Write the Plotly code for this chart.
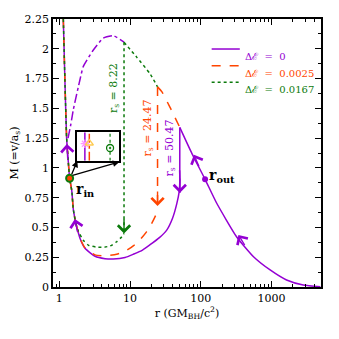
import numpy as np
import plotly.graph_objects as go

# colours
PURPLE = "#9400D3"
ORANGE = "#FF4500"
GREEN = "#0B7A0B"

# inner (steep) branch shared by all three solutions
r_steep = [1.14, 1.20, 1.27, 1.33, 1.40, 1.50, 1.58, 1.71]
M_steep = [2.25, 1.74, 1.25, 1.08, 0.913, 0.81, 0.65, 0.535]

# post-shock subsonic branches
r_low_0 = [1.71, 1.96, 2.31, 3.2, 4.43, 5.8, 8.5, 11.1, 15, 19.2, 26, 33, 40, 45.8, 49.5, 50.6, 50.2]
M_low_0 = [0.535, 0.41, 0.325, 0.258, 0.238, 0.235, 0.248, 0.275, 0.31, 0.355, 0.415, 0.478, 0.58, 0.70, 0.80, 0.90, 0.98]
r_low_1 = [1.71, 1.96, 2.31, 3.2, 4.43, 6.47, 8.5, 11.1, 14, 17.2, 20.5, 23.8, 24.47]
M_low_1 = [0.535, 0.41, 0.33, 0.27, 0.262, 0.275, 0.30, 0.345, 0.40, 0.465, 0.54, 0.62, 0.66]
r_low_2 = [1.71, 1.85, 2.2, 2.6, 3.38, 4.43, 5.5, 6.47, 7.6, 8.22]
M_low_2 = [0.535, 0.47, 0.39, 0.35, 0.335, 0.335, 0.35, 0.38, 0.42, 0.45]

# supersonic upper branch pieces
r_up_dd = [1.33, 1.46, 1.58, 1.96, 2.18, 3.03, 4.19, 5.81, 8.03, 8.22]
M_up_dd = [1.25, 1.37, 1.49, 1.74, 1.85, 1.99, 2.09, 2.11, 2.06, 2.055]
r_up_2 = [8.22, 12.4, 19.2, 24.47]
M_up_2 = [2.055, 1.93, 1.79, 1.68]
r_up_1 = [24.47, 28.1, 36.6, 50.47]
M_up_1 = [1.68, 1.64, 1.51, 1.34]
r_out_br = [50.47, 75, 115, 168, 322, 556, 955, 1630, 2800, 4900]
M_out_br = [1.34, 1.12, 0.904, 0.703, 0.42, 0.254, 0.143, 0.059, 0.017, 0.003]

# shocks
r_shock = [50.47, 24.47, 8.22]
M_shock_top = [1.34, 1.68, 2.055]
M_shock_bot = [0.79, 0.68, 0.45]
shock_lbl = ["50.47", "24.47", "8.22"]
M_shock_lbl = [1.17, 1.335, 1.67]

# sonic points
r_in, M_in = 1.40, 0.913
r_out, M_out = 115, 0.904

legend_names = ["Δℰ  =  0", "Δℰ  =  0.0025", "Δℰ  =  0.0167"]

FONT = "DejaVu Serif"

fig = go.Figure()

def line(x, y, color, dash, width=1.5):
    fig.add_trace(go.Scatter(x=x, y=y, mode="lines", showlegend=False,
                             line=dict(color=color, dash=dash, width=width, shape="spline", smoothing=0.5),
                             hoverinfo="skip"))

line(r_steep, M_steep, PURPLE, "solid")
line(r_steep, M_steep, ORANGE, "dash")
line(r_steep, M_steep, GREEN, "dot")
line(r_low_0, M_low_0, PURPLE, "solid")
line(r_low_1, M_low_1, ORANGE, "dash")
line(r_low_2, M_low_2, GREEN, "dot")
line(r_up_dd, M_up_dd, PURPLE, "dashdot")
line(r_up_2, M_up_2, GREEN, "dot")
line(r_up_1, M_up_1, ORANGE, "dash")
line(r_out_br, M_out_br, PURPLE, "solid")

styles = [(PURPLE, "solid"), (ORANGE, "dash"), (GREEN, "dot")]
for i in range(3):
    c, d = styles[i]
    fig.add_trace(go.Scatter(x=[r_shock[i], r_shock[i]], y=[M_shock_top[i], M_shock_bot[i]],
                             mode="lines", showlegend=False, line=dict(color=c, dash=d, width=1.5),
                             hoverinfo="skip"))
    fig.add_annotation(x=np.log10(r_shock[i]), y=M_shock_bot[i], ax=0, ay=-16, text="",
                       showarrow=True, arrowhead=4, arrowsize=1.7, arrowwidth=1.4, arrowcolor=c)
    fig.add_annotation(x=np.log10(r_shock[i]), y=M_shock_lbl[i], xshift=-10,
                       text="r<sub>s</sub> = " + shock_lbl[i], textangle=-90, showarrow=False,
                       font=dict(family=FONT, size=11, color=c))

# legend drawn by hand (rows are tighter than plotly's legend allows)
leg_y = [0.888, 0.826, 0.764]
for i in range(3):
    c, d = styles[i]
    fig.add_shape(type="line", xref="paper", yref="paper", x0=0.592, x1=0.697,
                  y0=leg_y[i], y1=leg_y[i], line=dict(color=c, dash=d, width=1.5))
    fig.add_annotation(xref="paper", yref="paper", x=0.708, y=leg_y[i], xanchor="left",
                       text=legend_names[i], showarrow=False,
                       font=dict(family=FONT, size=10, color=c))

# sonic points
fig.add_trace(go.Scatter(x=[r_in], y=[M_in], mode="markers", showlegend=False,
                         marker=dict(size=7, color=ORANGE, line=dict(color=GREEN, width=2))))
fig.add_trace(go.Scatter(x=[r_out], y=[M_out], mode="markers", showlegend=False,
                         marker=dict(size=6, color=PURPLE)))
fig.add_annotation(x=np.log10(2.3), y=0.815, text="<b>r<sub>in</sub></b>", showarrow=False,
                   font=dict(family=FONT, size=14, color="black"))
fig.add_annotation(x=np.log10(200), y=0.93, text="<b>r<sub>out</sub></b>", showarrow=False,
                   font=dict(family=FONT, size=14, color="black"))

# flow direction arrows along curves: (tip r, tip M, tail r, tail M)
flow_arrows = [(1.28, 1.20, 1.32, 1.06), (1.66, 0.57, 1.83, 0.45),
               (340, 0.437, 430, 0.34), (80, 1.11, 96, 1.0)]
for tr, tm, ar, am in flow_arrows:
    fig.add_annotation(x=np.log10(tr), y=tm, ax=np.log10(ar), ay=am, axref="x", ayref="y",
                       text="", showarrow=True, arrowhead=4, arrowsize=1.7, arrowwidth=1.4,
                       arrowcolor=PURPLE)

# arrows from r_in to the inset
for hx, hy in [(1.80, 1.06), (7.06, 1.05)]:
    fig.add_annotation(x=np.log10(hx), y=hy, ax=np.log10(r_in * 1.05), ay=M_in + 0.02,
                       axref="x", ayref="y", text="", showarrow=True, arrowhead=2,
                       arrowsize=1, arrowwidth=1.3, arrowcolor="black")

# inset
ins_x = [0.18, 0.286, 0.78]
fig.add_trace(go.Scatter(x=[ins_x[0]] * 2, y=[0, 1], mode="lines", xaxis="x2", yaxis="y2",
                         showlegend=False, line=dict(color=PURPLE, width=1.5)))
fig.add_trace(go.Scatter(x=[ins_x[1]] * 2, y=[0, 1], mode="lines", xaxis="x2", yaxis="y2",
                         showlegend=False, line=dict(color=ORANGE, width=1.5, dash="dashdot")))
fig.add_trace(go.Scatter(x=[ins_x[2]] * 2, y=[0, 1], mode="lines", xaxis="x2", yaxis="y2",
                         showlegend=False, line=dict(color=GREEN, width=1.2, dash="dot")))
fig.add_trace(go.Scatter(x=[ins_x[0]], y=[0.6], mode="markers", xaxis="x2", yaxis="y2",
                         showlegend=False, marker=dict(symbol="asterisk-open", size=7,
                                                       line=dict(color=PURPLE, width=1.2))))
fig.add_trace(go.Scatter(x=[ins_x[1]], y=[0.62], mode="markers", xaxis="x2", yaxis="y2",
                         showlegend=False, marker=dict(symbol="triangle-up-open", size=7,
                                                       line=dict(color=ORANGE, width=1.5))))
fig.add_trace(go.Scatter(x=[ins_x[2]], y=[0.45], mode="markers", xaxis="x2", yaxis="y2",
                         showlegend=False, marker=dict(symbol="circle-dot", size=7, color="white",
                                                       line=dict(color=GREEN, width=1.3))))

x_major = [1, 10, 100, 1000]
x_minor = [0.9] + [m * d for d in [1, 10, 100] for m in range(2, 10)] + [2000, 3000, 4000]
y_major = [0, 0.25, 0.5, 0.75, 1, 1.25, 1.5, 1.75, 2, 2.25]
y_minor = [0.125 + 0.25 * i for i in range(9)]

# page body has an 8px margin, so margins are shifted to keep the frame in place
fig.update_layout(
    width=339, height=339,
    margin=dict(l=45, r=26, t=11, b=60),
    paper_bgcolor="white", plot_bgcolor="white",
    showlegend=False,
    font=dict(family=FONT, size=11, color="black"),
    xaxis=dict(type="log", range=[np.log10(0.815), np.log10(5000)], automargin=False,
               tickvals=x_major, ticktext=["1", "10", "100", "1000"],
               ticks="inside", ticklen=6, tickwidth=1, tickcolor="black",
               minor=dict(tickvals=x_minor, ticks="inside", ticklen=3, tickcolor="black", showgrid=False),
               showline=True, linecolor="black", linewidth=1.5, mirror="ticks",
               showgrid=False, zeroline=False,
               title=dict(text="r (GM<sub>BH</sub>/c<sup>2</sup>)", standoff=4,
                          font=dict(family=FONT, size=11))),
    yaxis=dict(range=[0, 2.25], tickvals=y_major, automargin=False,
               ticktext=["0", "0.25", "0.5", "0.75", "1", "1.25", "1.5", "1.75", "2", "2.25"],
               ticks="inside", ticklen=6, tickwidth=1, tickcolor="black",
               minor=dict(tickvals=y_minor, ticks="inside", ticklen=3, tickcolor="black", showgrid=False),
               showline=True, linecolor="black", linewidth=1.5, mirror="ticks",
               showgrid=False, zeroline=False,
               title=dict(text="M (=v/a<sub>s</sub>)", standoff=6, font=dict(family=FONT, size=11))),
    xaxis2=dict(domain=[0.0907, 0.2474], anchor="y2", range=[0, 1], showticklabels=False,
                ticks="", showgrid=False, zeroline=False, showline=True, linecolor="black",
                linewidth=1.5, mirror=True),
    yaxis2=dict(domain=[0.471, 0.577], anchor="x2", range=[0, 1], showticklabels=False,
                ticks="", showgrid=False, zeroline=False, showline=True, linecolor="black",
                linewidth=1.5, mirror=True),
)

fig.write_html("out.html")
